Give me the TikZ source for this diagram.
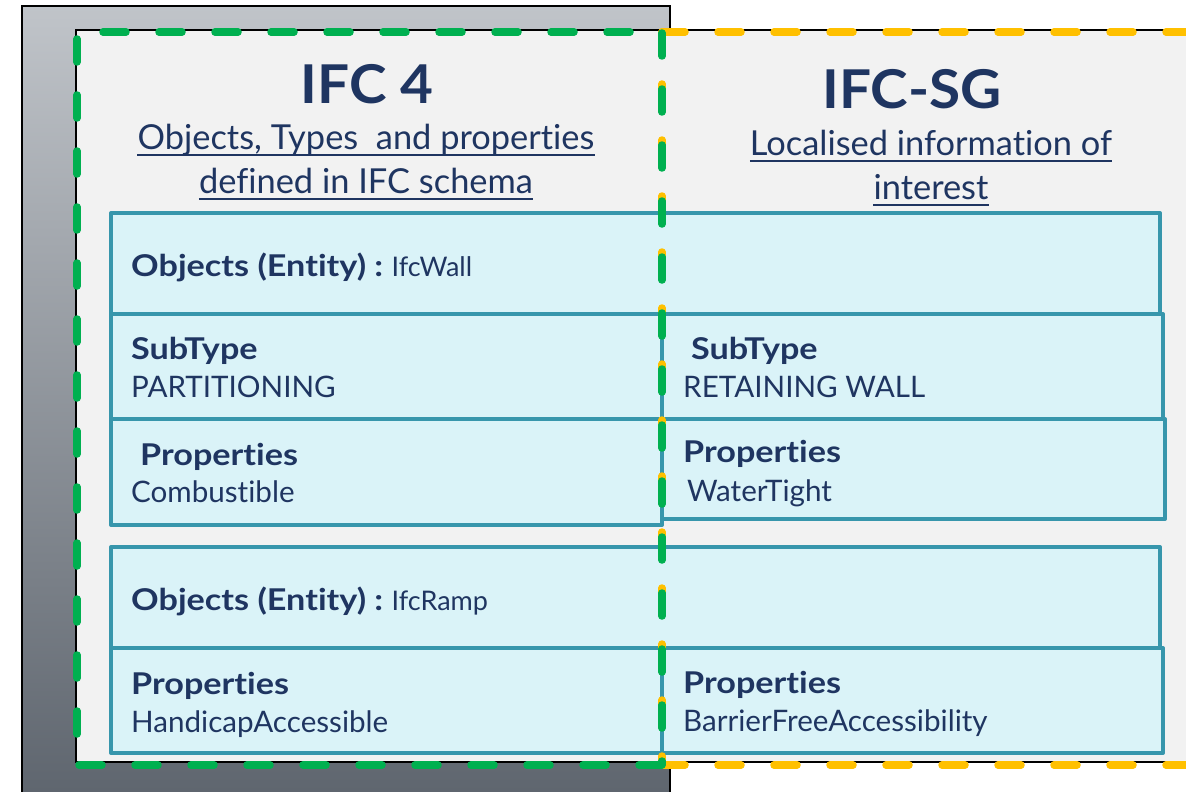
\documentclass[tikz,border=0pt]{standalone}
\usepackage{fontspec}
\usepackage{graphicx}
\setmainfont{Lato}[Ligatures={NoCommon,NoRare}]
\definecolor{navy}{RGB}{31,53,97}
\definecolor{panel}{RGB}{242,242,242}
\definecolor{teal}{RGB}{55,150,172}
\definecolor{cyanfill}{RGB}{218,243,248}
\definecolor{dgreen}{RGB}{0,176,80}
\definecolor{dorange}{RGB}{255,192,0}
\definecolor{gtop}{RGB}{192,196,201}
\definecolor{gbot}{RGB}{94,101,110}
\newcommand{\bx}[1]{\scalebox{1.14}[1]{\bfseries #1}}
\newcommand{\tx}[1]{\scalebox{1.06}[1]{\bfseries #1}}
\tikzset{
  box/.style={draw=teal, fill=cyanfill, line width=4pt, line join=round},
  dashline/.style={line width=7.5pt, line cap=round, dash pattern=on 23pt off 33pt},
  txt/.style={inner sep=0pt, anchor=base west, text=navy, font=\fontsize{29.6}{34}\selectfont},
  btxt/.style={inner sep=0pt, anchor=base west, text=navy, font=\fontsize{30}{34}\selectfont},
  smalltxt/.style={inner sep=0pt, anchor=base west, text=navy, font=\fontsize{27}{32}\selectfont},
  title/.style={inner sep=0pt, anchor=base, text=navy, font=\fontsize{53.5}{60}\selectfont},
  sub/.style={inner sep=0pt, anchor=base, text=navy, font=\fontsize{34.4}{40}\selectfont},
  uline/.style={draw=navy, line width=1.6pt}
}
\begin{document}
\begin{tikzpicture}[x=1pt,y=-1pt]
\useasboundingbox (0,0) rectangle (1186,792);
% gray backdrop
\shade[top color=gtop, bottom color=gbot] (22,6) rectangle (670,800);
\draw[line width=2pt] (22,800) -- (22,6) -- (670,6) -- (670,800);
% light panel
\fill[panel] (76,30) rectangle (1200,762);
\draw[line width=1.6pt] (1200,30) -- (76,30) -- (76,762) -- (1200,762);
% titles
\node[title] (t1) at (367,103) {\tx{IFC 4}};
\node[title] (t2) at (912,108) {\tx{IFC-SG}};
\node[sub] (s1) at (366,149) {Objects, Types~ and properties};
\node[sub] (s2) at (366,193) {defined in IFC schema};
\node[sub] (s3) at (931,155) {Localised information of};
\node[sub] (s4) at (931,199) {interest};
\foreach \n in {s1,s2,s3,s4}{\draw[uline] ([yshift=-6pt]\n.base west) -- ([yshift=-6pt]\n.base east);}
% boxes
\draw[box] (111,213) rectangle (1160,314);
\draw[box] (111,314) rectangle (662,419);
\draw[box] (662,314) rectangle (1163,419);
\draw[box] (111,419) rectangle (662,525);
\draw[box] (662,419) rectangle (1165,519);
\draw[box] (111,547) rectangle (1160,648);
\draw[box] (111,648) rectangle (662,753);
\draw[box] (662,648) rectangle (1163,753);
% box texts
\node[btxt] (o1) at (131,276) {\bx{Objects (Entity) :}};
\node[smalltxt] (o1v) at ([xshift=8pt]o1.base east) {IfcWall};
\node[btxt] (st1) at (131,359) {\bx{SubType}};
\node[txt] (st1v) at (131,397) {PARTITIONING};
\node[btxt] (p1) at (140,465) {\bx{Properties}};
\node[txt] (p1v) at (131,502) {Combustible};
\node[btxt] (st2) at (691,359) {\bx{SubType}};
\node[txt] (st2v) at (683,397) {RETAINING WALL};
\node[btxt] (p2) at (683,462) {\bx{Properties}};
\node[txt] (p2v) at (687,501) {WaterTight};
\node[btxt] (o2) at (131,610) {\bx{Objects (Entity) :}};
\node[smalltxt] (o2v) at ([xshift=8pt]o2.base east) {IfcRamp};
\node[btxt] (p3) at (131,694) {\bx{Properties}};
\node[txt] (p3v) at (131,732) {HandicapAccessible};
\node[btxt] (p4) at (683,693) {\bx{Properties}};
\node[txt] (p4v) at (683,731) {BarrierFreeAccessibility};
% dashed frames
\draw[dashline, draw=dorange] (662,32) -- (1220,32);
\draw[dashline, draw=dorange] (662,765) -- (1220,765);
\draw[dashline, draw=dorange, dash phase=4pt] (662,32) -- (662,765);
\draw[dashline, draw=dgreen] (662,765) -- (77,765) -- (77,32) -- (662,32) -- (662,765);
\end{tikzpicture}
\end{document}
